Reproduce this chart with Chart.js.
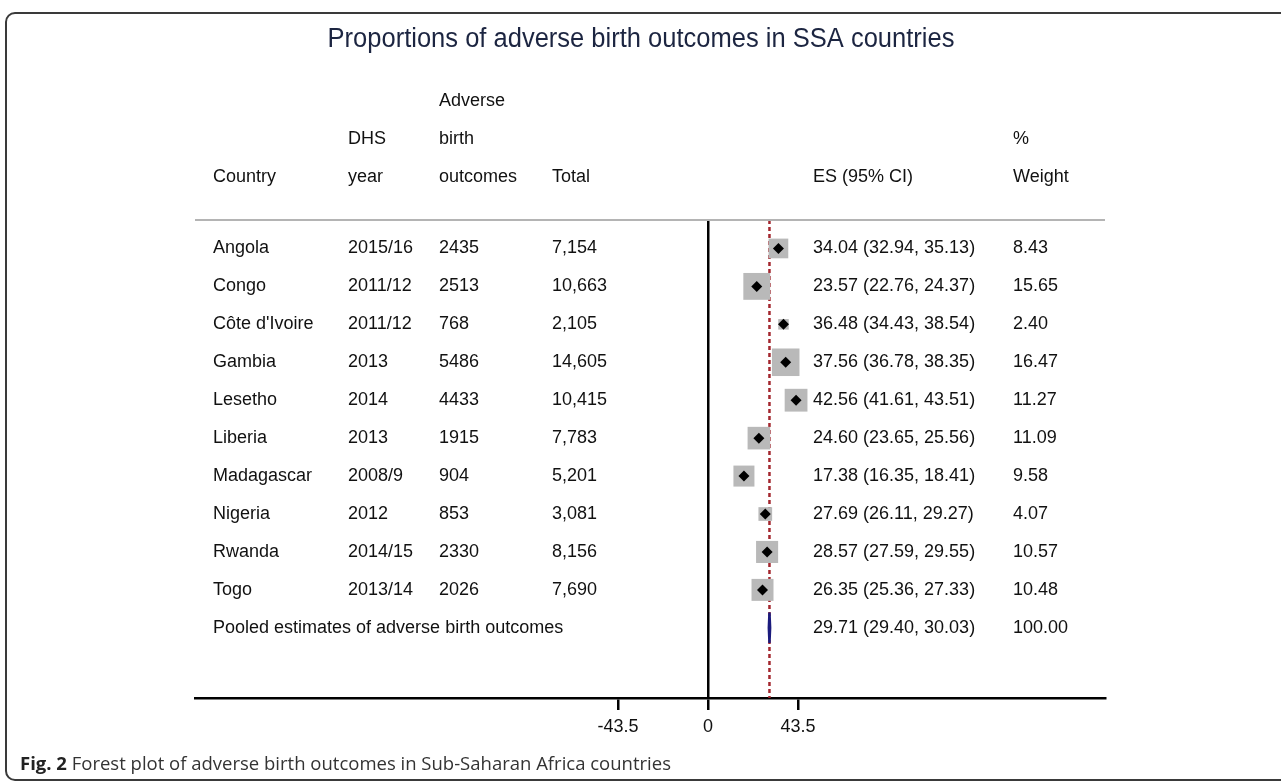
<!DOCTYPE html>
<html>
<head>
<meta charset="utf-8">
<title>Forest plot</title>
<script src="https://cdn.jsdelivr.net/npm/chart.js@4.4.1/dist/chart.umd.min.js"></script>
<style>
  html, body { margin: 0; padding: 0; background: #fff; }
  body { width: 1281px; height: 782px; position: relative; overflow: hidden; }
  #frame {
    position: absolute; left: 5px; top: 12px; width: 1400px; height: 769px;
    border: 2px solid #3a3a3a; border-radius: 10px; box-sizing: border-box;
  }
  #wrap { position: absolute; left: 0; top: 0; width: 1281px; height: 782px; }
  #caption {
    position: absolute; left: 20px; top: 750px;
    font-family: "Open Sans", sans-serif; font-size: 18.5px; color: #333; white-space: nowrap;
  }
  #caption b { color: #222; }
</style>
</head>
<body>
<div id="frame"></div>
<div id="wrap"><canvas id="forestChart"></canvas></div>
<div id="caption"><b>Fig. 2</b> Forest plot of adverse birth outcomes in Sub-Saharan Africa countries</div>

<script>
// 데이터
const countries = ['Angola', 'Congo', "Côte d'Ivoire", 'Gambia', 'Lesetho', 'Liberia', 'Madagascar', 'Nigeria', 'Rwanda', 'Togo'];
const dhsYears = ['2015/16', '2011/12', '2011/12', '2013', '2014', '2013', '2008/9', '2012', '2014/15', '2013/14'];
const adverseCounts = [2435, 2513, 768, 5486, 4433, 1915, 904, 853, 2330, 2026];
const totals = [7154, 10663, 2105, 14605, 10415, 7783, 5201, 3081, 8156, 7690];
const esValues = [34.04, 23.57, 36.48, 37.56, 42.56, 24.60, 17.38, 27.69, 28.57, 26.35];
const ciLower = [32.94, 22.76, 34.43, 36.78, 41.61, 23.65, 16.35, 26.11, 27.59, 25.36];
const ciUpper = [35.13, 24.37, 38.54, 38.35, 43.51, 25.56, 18.41, 29.27, 29.55, 27.33];
const weights = [8.43, 15.65, 2.40, 16.47, 11.27, 11.09, 9.58, 4.07, 10.57, 10.48];

const pooledLabel = 'Pooled estimates of adverse birth outcomes';
const pooledEs = 29.71;
const pooledLo = 29.40;
const pooledHi = 30.03;
const pooledWeight = 100.00;

const xTicks = [-43.5, 0, 43.5];
const chartTitle = 'Proportions of adverse birth outcomes in SSA countries';

// 레이아웃
const FONT = '"Liberation Sans", Arial, sans-serif';
const TEXT_COLOR = '#111';
const col = { country: 213, year: 348, outcomes: 439, total: 552, es: 813, weight: 1013 };
const pooledRow = countries.length;

function fmtCi(es, lo, hi) {
    return es.toFixed(2) + ' (' + lo.toFixed(2) + ', ' + hi.toFixed(2) + ')';
}

// 제목, 표 텍스트, 구분선
const tablePlugin = {
    id: 'forestTable',
    afterDraw(chart) {
        const { ctx, chartArea, scales } = chart;
        const y = scales.y;
        ctx.save();

        // 제목 (약간 좁은 글꼴 느낌)
        ctx.save();
        ctx.font = '27px ' + FONT;
        ctx.fillStyle = '#1c2541';
        ctx.textAlign = 'center';
        ctx.textBaseline = 'middle';
        ctx.translate(641, 40);
        ctx.scale(0.945, 1);
        ctx.fillText(chartTitle, 0, 0);
        ctx.restore();

        ctx.strokeStyle = '#b4b4b4';
        ctx.lineWidth = 2;
        ctx.beginPath();
        ctx.moveTo(chartArea.left, chartArea.top);
        ctx.lineTo(chartArea.right, chartArea.top);
        ctx.stroke();

        ctx.font = '18px ' + FONT;
        ctx.fillStyle = TEXT_COLOR;
        ctx.textBaseline = 'middle';
        ctx.textAlign = 'left';

        // 헤더
        ctx.fillText('Adverse', col.outcomes, 101);
        ctx.fillText('DHS', col.year, 139);
        ctx.fillText('birth', col.outcomes, 139);
        ctx.fillText('%', col.weight, 139);
        ctx.fillText('Country', col.country, 177);
        ctx.fillText('year', col.year, 177);
        ctx.fillText('outcomes', col.outcomes, 177);
        ctx.fillText('Total', col.total, 177);
        ctx.fillText('ES (95% CI)', col.es, 177);
        ctx.fillText('Weight', col.weight, 177);

        countries.forEach((c, i) => {
            const py = y.getPixelForValue(i);
            ctx.fillText(c, col.country, py);
            ctx.fillText(dhsYears[i], col.year, py);
            ctx.fillText(String(adverseCounts[i]), col.outcomes, py);
            ctx.fillText(totals[i].toLocaleString('en-US'), col.total, py);
            ctx.fillText(fmtCi(esValues[i], ciLower[i], ciUpper[i]), col.es, py);
            ctx.fillText(weights[i].toFixed(2), col.weight, py);
        });

        const pp = y.getPixelForValue(pooledRow);
        ctx.fillText(pooledLabel, col.country, pp);
        ctx.fillText(fmtCi(pooledEs, pooledLo, pooledHi), col.es, pp);
        ctx.fillText(pooledWeight.toFixed(2), col.weight, pp);

        ctx.restore();
    }
};

function initForestChart() {
    const ctx = document.getElementById('forestChart').getContext('2d');
    new Chart(ctx, {
        type: 'scatter',
        data: {
            datasets: [
                {
                    // 합동 추정치 기준선
                    type: 'line',
                    data: [{ x: pooledEs, y: -0.75 }, { x: pooledEs, y: 11.85 }],
                    borderColor: '#a3262e',
                    borderWidth: 2.5,
                    borderDash: [4, 3],
                    pointRadius: 0,
                    showLine: true,
                    order: 4
                },
                {
                    // 가중치 상자
                    data: esValues.map((v, i) => ({ x: v, y: i })),
                    pointStyle: 'rect',
                    pointRadius: c => 4.8 * Math.sqrt(weights[c.dataIndex]),
                    backgroundColor: '#b9b9b9',
                    borderWidth: 0,
                    order: 3
                },
                {
                    // 신뢰구간
                    type: 'line',
                    data: esValues.flatMap((v, i) => [{ x: ciLower[i], y: i }, { x: ciUpper[i], y: i }, { x: NaN, y: i }]),
                    borderColor: '#000',
                    borderWidth: 1,
                    pointRadius: 0,
                    spanGaps: false,
                    showLine: true,
                    order: 2
                },
                {
                    // 점 추정치
                    data: esValues.map((v, i) => ({ x: v, y: i })),
                    pointStyle: 'rectRot',
                    pointRadius: 5.5,
                    backgroundColor: '#000',
                    borderWidth: 0,
                    order: 1
                },
                {
                    // 합동 다이아몬드
                    type: 'line',
                    data: [
                        { x: pooledLo, y: pooledRow },
                        { x: pooledEs, y: pooledRow - 0.4 },
                        { x: pooledHi, y: pooledRow },
                        { x: pooledEs, y: pooledRow + 0.4 },
                        { x: pooledLo, y: pooledRow }
                    ],
                    borderColor: '#1b1b7d',
                    backgroundColor: '#1b1b7d',
                    borderWidth: 2.5,
                    pointRadius: 0,
                    showLine: true,
                    order: 0
                }
            ]
        },
        options: {
            responsive: true,
            maintainAspectRatio: false,
            animation: false,
            events: [],
            layout: { padding: { left: 195, right: 176, top: 220, bottom: 0 } },
            plugins: {
                legend: { display: false },
                tooltip: { enabled: false },
                title: { display: false }
            },
            scales: {
                x: {
                    type: 'linear',
                    min: -247.8,
                    max: 191.8,
                    afterBuildTicks: s => { s.ticks = xTicks.map(v => ({ value: v })); },
                    afterFit: s => { s.height = 84; },
                    grid: {
                        drawOnChartArea: true,
                        color: c => (c.tick && c.tick.value === 0) ? '#000' : 'rgba(0,0,0,0)',
                        lineWidth: 2.5,
                        tickColor: '#000',
                        tickLength: 12,
                        drawTicks: true
                    },
                    border: { display: true, color: '#000', width: 2.5 },
                    ticks: {
                        color: TEXT_COLOR,
                        font: { family: FONT, size: 18 },
                        padding: 6,
                        autoSkip: false,
                        maxRotation: 0,
                        callback: v => String(v)
                    }
                },
                y: {
                    type: 'linear',
                    display: false,
                    reverse: true,
                    min: -0.75,
                    max: 11.85
                }
            }
        },
        plugins: [tablePlugin]
    });
}

document.addEventListener('DOMContentLoaded', function() {
    initForestChart();
});
</script>
</body>
</html>
